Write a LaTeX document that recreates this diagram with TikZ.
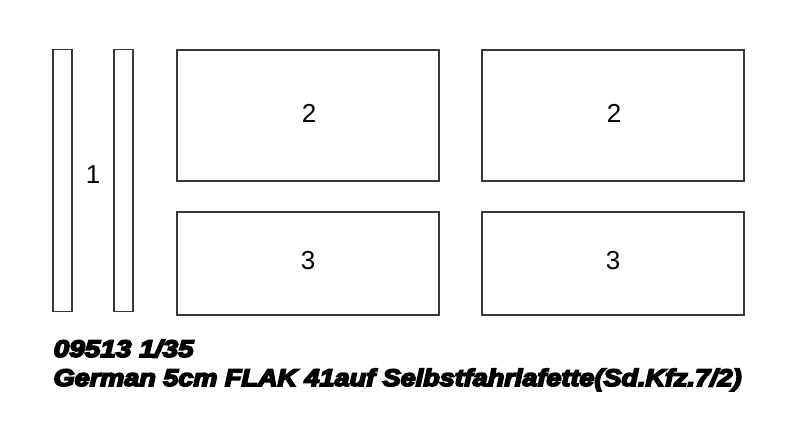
\documentclass[tikz,border=0pt]{standalone}
\usepackage{fontspec}
\setmainfont{Liberation Sans}
\newfontfamily\titlefont[FakeBold=6.5]{Liberation Sans}
\usepackage{graphicx}
\begin{document}
\begin{tikzpicture}[x=1pt,y=-1pt,
  part/.style={draw=black!78,line width=1.3pt},
  num/.style={font=\fontsize{26}{26}\selectfont,inner sep=0pt},
  ttl/.style={font=\titlefont\bfseries\itshape\fontsize{24}{24}\selectfont,inner sep=0pt,anchor=base west}]
\useasboundingbox (0,0) rectangle (800,443);
\fill[white] (0,0) rectangle (800,443);
\draw[part] (53,49.5) rectangle (72,311.5);
\draw[part] (114,49.5) rectangle (133,311.5);
\draw[part] (177,50) rectangle (439,181);
\draw[part] (482,50) rectangle (744,181);
\draw[part] (177,212) rectangle (439,315);
\draw[part] (482,212) rectangle (744,315);
\node[num] (l1) at (93,174.5) {1};
\node[num] (l2a) at (309,113.5) {2};
\node[num] (l2b) at (614,113.5) {2};
\node[num] (l3a) at (308,261) {3};
\node[num] (l3b) at (613,261) {3};
\node[ttl] (t1) at (53.5,357) {\resizebox{140pt}{\height}{09513 1/35}};
\node[ttl] (t2) at (53.5,386) {\resizebox{688pt}{\height}{German 5cm FLAK 41auf Selbstfahrlafette(Sd.Kfz.7/2)}};
\end{tikzpicture}
\end{document}
